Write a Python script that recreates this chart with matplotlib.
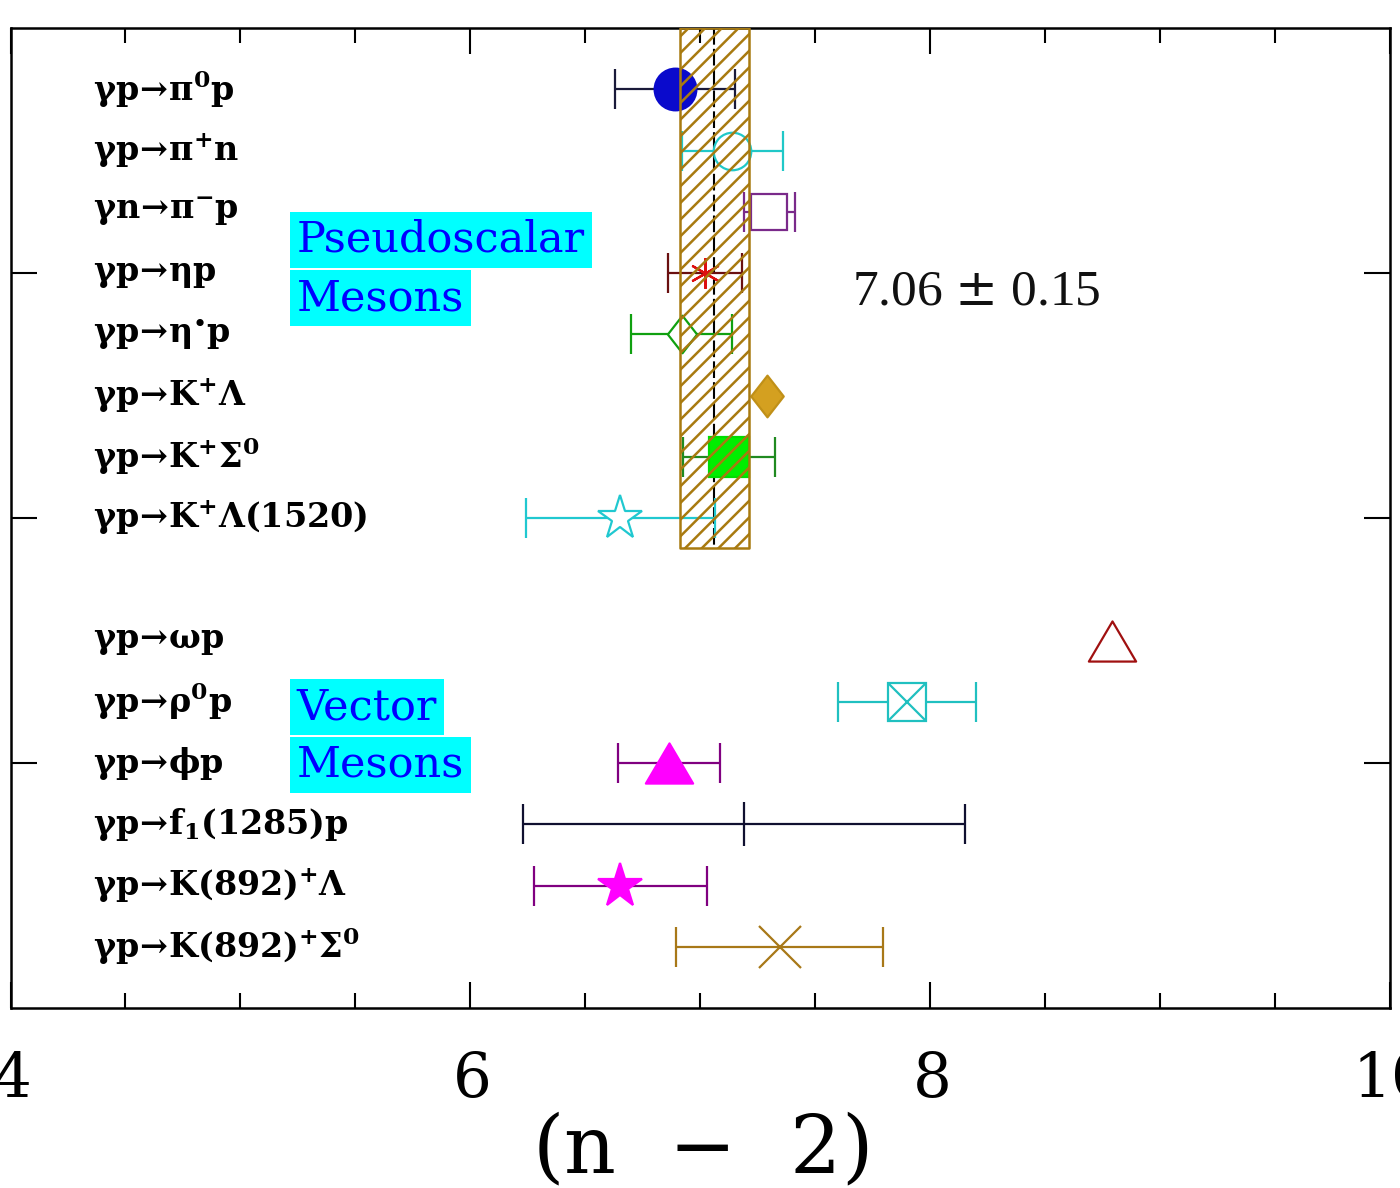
import matplotlib
matplotlib.use("Agg")
import matplotlib.pyplot as plt
import numpy as np
from matplotlib.path import Path
from matplotlib.ticker import MultipleLocator, FixedLocator, FuncFormatter

plt.rcParams['hatch.linewidth'] = 1.8
plt.rcParams['mathtext.fontset'] = 'dejavuserif'

# ---------------- data ----------------
labels = [r'$\mathbf{\gamma p\!\rightarrow\!\pi^{0}p}$',
          r'$\mathbf{\gamma p\!\rightarrow\!\pi^{+}n}$',
          r'$\mathbf{\gamma n\!\rightarrow\!\pi^{-}p}$',
          r'$\mathbf{\gamma p\!\rightarrow\!\eta p}$',
          r'$\mathbf{\gamma p\!\rightarrow\!\eta^{\bullet}p}$',
          r'$\mathbf{\gamma p\!\rightarrow\!K^{+}\Lambda}$',
          r'$\mathbf{\gamma p\!\rightarrow\!K^{+}\Sigma^{0}}$',
          r'$\mathbf{\gamma p\!\rightarrow\!K^{+}\Lambda(1520)}$',
          r'$\mathbf{\gamma p\!\rightarrow\!\omega p}$',
          r'$\mathbf{\gamma p\!\rightarrow\!\rho^{0}p}$',
          r'$\mathbf{\gamma p\!\rightarrow\!\phi p}$',
          r'$\mathbf{\gamma p\!\rightarrow\!f_{1}(1285)p}$',
          r'$\mathbf{\gamma p\!\rightarrow\!K(892)^{+}\Lambda}$',
          r'$\mathbf{\gamma p\!\rightarrow\!K(892)^{+}\Sigma^{0}}$']
rows = [0.5, 1.0, 1.5, 2.0, 2.5, 3.0, 3.5, 4.0, 5.0, 5.5, 6.0, 6.5, 7.0, 7.5]
values = [6.89, 7.14, 7.30, 7.02, 6.92, 7.29, 7.125, 6.653, 8.79, 7.90, 6.864, 7.19, 6.653, 7.345]
errors = [0.26, 0.22, 0.11, 0.16, 0.22, None, 0.20, 0.41, None, 0.30, 0.22, 0.96, 0.377, 0.45]

fit_value = 7.06
fit_error = 0.15
fit_extent = 4.245

# ---------------- styles ----------------
bar_colors = ['#1a1a3a', '#20c8c8', '#7a2a8a', '#6a1010', '#10a010', '#d4a020', '#208a20',
              '#20c8d0', '#a01010', '#20c0c0', '#800080', '#101030', '#800080', '#a87818']
diamond = Path([(-0.78, 0), (0, 1), (0.78, 0), (0, -1), (-0.78, 0)], closed=True)
triangle = Path([(-1, -0.85), (1, -0.85), (0, 0.85), (-1, -0.85)], closed=True)
marker_styles = [
    dict(marker='o', ms=30, mfc='#0a0acc', mec='#0a0acc'),
    dict(marker='o', ms=27, mfc='white', mec='#20c8c8'),
    dict(marker='s', ms=26, mfc='white', mec='#7a2a8a'),
    dict(marker=(6, 2, 0), ms=22, mfc='#dd1010', mec='#dd1010'),
    dict(marker=diamond, ms=27, mfc='white', mec='#10a010'),
    dict(marker=diamond, ms=30, mfc='#d4a020', mec='#c09018'),
    dict(marker='s', ms=29, mfc='#00ee00', mec='#00dd00'),
    dict(marker='*', ms=33, mfc='white', mec='#20c8d0'),
    dict(marker=triangle, ms=34, mfc='white', mec='#a01010'),
    dict(marker='s', ms=28, mfc='white', mec='#20c0c0'),
    dict(marker=triangle, ms=34, mfc='#ff00ff', mec='#ff00ff'),
    dict(marker='|', ms=31, mfc='#101030', mec='#101030'),
    dict(marker='*', ms=33, mfc='#ff00ff', mec='#ff00ff'),
    dict(marker='x', ms=30, mfc='#a87818', mec='#a87818'),
]

fig = plt.figure(figsize=(14, 11.88), dpi=100)
W, H = 1400, 1188
ax = fig.add_axes([10.5 / W, 1 - 1008 / H, (1390 - 10.5) / W, (1008 - 28) / H])
ax.set_xlim(4, 10)
ax.set_ylim(8, 0)

# central value line
ax.plot([fit_value, fit_value], [0, fit_extent], color='black', lw=1.5,
        ls=(0, (8, 2)), zorder=1)

for i in range(len(rows)):
    st = marker_styles[i]
    if errors[i] is not None:
        ax.errorbar(values[i], rows[i], xerr=errors[i], fmt='none',
                    ecolor=bar_colors[i], elinewidth=1.6, capsize=14.5,
                    capthick=1.6, zorder=2)
    ax.plot(values[i], rows[i], linestyle='none', marker=st['marker'],
            ms=st['ms'], mfc=st['mfc'], mec=st['mec'], mew=1.6, zorder=3)
    if i == 9:
        ax.plot(values[i], rows[i], linestyle='none', marker='x', ms=st['ms'],
                mec=st['mec'], mew=1.6, zorder=3)

# fit band (hatched, drawn on top)
ax.fill_betweenx([0, fit_extent], fit_value - fit_error, fit_value + fit_error,
                 facecolor='none', edgecolor='#a87a10', hatch='//', lw=1.8, zorder=4)

# reaction labels
for lab, r in zip(labels, rows):
    ax.text(4.36, r, lab, ha='left', va='center', fontsize=24, color='black', zorder=5)

# group labels
box = dict(facecolor='#00ffff', edgecolor='none', pad=5)
for txt, yy in [('Pseudoscalar', 1.73), ('Mesons', 2.205), ('Vector', 5.543), ('Mesons', 6.016)]:
    ax.text(5.245, yy, txt, ha='left', va='center', fontsize=31, color='#0000ff',
            family='DejaVu Serif', bbox=box, zorder=6)

ax.text(7.66, 2.155, r'7.06 $\pm$ 0.15', ha='left', va='center', fontsize=37,
        family='Liberation Serif', color='#111111', zorder=6)

# axes styling
for sp in ax.spines.values():
    sp.set_linewidth(1.8)
ax.xaxis.set_major_locator(FixedLocator([4, 6, 8, 10]))
ax.xaxis.set_minor_locator(MultipleLocator(0.5))
ax.yaxis.set_major_locator(FixedLocator([2, 4, 6]))
ax.yaxis.set_minor_locator(FixedLocator([]))
ax.tick_params(axis='x', which='major', direction='in', length=19, width=1.5,
               top=True, bottom=True, pad=30, labelsize=44)
ax.tick_params(axis='x', which='minor', direction='in', length=10.5, width=1.5,
               top=True, bottom=True)
ax.tick_params(axis='y', which='major', direction='in', length=19, width=1.5,
               left=True, right=True, labelleft=False)
ax.xaxis.set_major_formatter(FuncFormatter(lambda v, p: r'$\mathregular{%d}$' % v))
for t in ax.get_xticklabels():
    t.set_family('DejaVu Serif')
ax.set_xlabel(r'(n $\,-\,$ 2)', fontsize=58, family='DejaVu Serif', labelpad=2)

fig.savefig('out.png', dpi=100)
